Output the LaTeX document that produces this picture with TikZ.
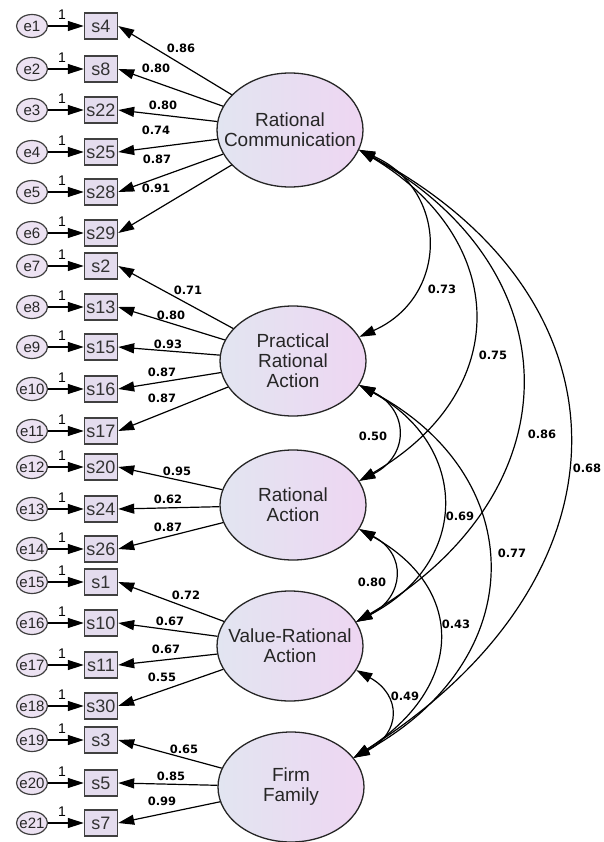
\documentclass[tikz,border=0pt]{standalone}
\usepackage{fontspec}
\setmainfont{Liberation Sans}
\newfontfamily\valfont{DejaVu Sans}
\usetikzlibrary{arrows.meta,shapes.geometric}
\definecolor{latL}{RGB}{226,229,241}
\definecolor{latR}{RGB}{238,214,242}
\definecolor{boxc}{RGB}{228,220,238}
\definecolor{errc}{RGB}{236,226,242}
\begin{document}
\begin{tikzpicture}[x=1pt,y=-1pt,
  latent/.style={ellipse, draw=black!85, line width=1.3pt, minimum width=146pt, minimum height=110pt, inner sep=0pt, left color=latL, right color=latR},
  lattext/.style={align=center, inner sep=0pt, text=black!85, font=\fontsize{19}{20}\selectfont},
  obs/.style={rectangle, draw=black!75, line width=1.4pt, minimum width=33pt, minimum height=26pt, inner sep=0pt, fill=boxc, text=black!80, font=\fontsize{18}{18}\selectfont},
  err/.style={ellipse, draw=black!75, line width=1.2pt, minimum width=31pt, minimum height=23pt, inner sep=0pt, fill=errc},
  errtext/.style={inner sep=0pt, text=black!85, font=\fontsize{15}{15}\selectfont},
  one/.style={inner sep=0pt, font=\fontsize{14}{14}\selectfont},
  val/.style={inner sep=0pt, font=\valfont\bfseries\fontsize{11.5}{12}\selectfont},
  tip/.style={-{Triangle[length=16pt,width=10pt]}, line width=1.2pt},
  cov/.style={{Triangle[length=16pt,width=10pt]}-{Triangle[length=16pt,width=10pt]}, line width=1.2pt},
]
\useasboundingbox (0,0) rectangle (603,842);

% indicators and errors
\foreach \i/\s/\y in {1/4/26, 2/8/69, 3/22/110, 4/25/152, 5/28/192, 6/29/233,
  7/2/266, 8/13/307, 9/15/347, 10/16/389, 11/17/431,
  12/20/467, 13/24/509, 14/26/549,
  15/1/582, 16/10/623, 17/11/665, 18/30/706,
  19/3/740, 20/5/783, 21/7/823} {
  \node[err] (e\i) at (32,\y) {};
  \node[errtext] at (e\i) {e\i};
  \node[obs] (s\s) at (101,\y) {s\s};
  \draw[tip] (e\i) -- (s\s);
  \node[one] (one\i) at (62,\y-11) {1};
}

% latent variables
\node[latent, minimum height=114pt] (RC) at (290,130) {};
\node[lattext] at (RC) {Rational\\Communication};
\node[latent] (PRA) at (293,361) {};
\node[lattext] at (PRA) {Practical\\Rational\\Action};
\node[latent] (RA) at (293,505) {};
\node[lattext] at (RA) {Rational\\Action};
\node[latent] (VRA) at (290,646) {};
\node[lattext] at (VRA) {Value-Rational\\Action};
\node[latent] (FF) at (291,787) {};
\node[lattext] at (FF) {Firm\\Family};

% loadings
\foreach \s in {4,8,22,25,28,29} \draw[tip] (RC) -- (s\s.east);
\foreach \s in {2,13,15,16,17} \draw[tip] (PRA) -- (s\s.east);
\foreach \s in {20,24,26} \draw[tip] (RA) -- (s\s.east);
\foreach \s in {1,10,11,30} \draw[tip] (VRA) -- (s\s.east);
\foreach \s in {3,5,7} \draw[tip] (FF) -- (s\s.east);

\node[val] (l1) at (181,48) {0.86};
\node[val] (l2) at (156,68) {0.80};
\node[val] (l3) at (163,105) {0.80};
\node[val] (l4) at (156,130) {0.74};
\node[val] (l5) at (157,159) {0.87};
\node[val] (l6) at (156,188) {0.91};
\node[val] (l7) at (188,290) {0.71};
\node[val] (l8) at (171,315) {0.80};
\node[val] (l9) at (168,344) {0.93};
\node[val] (l10) at (162,372) {0.87};
\node[val] (l11) at (162,398) {0.87};
\node[val] (l12) at (177,471) {0.95};
\node[val] (l13) at (168,499) {0.62};
\node[val] (l14) at (168,527) {0.87};
\node[val] (l15) at (186,595) {0.72};
\node[val] (l16) at (170,621) {0.67};
\node[val] (l17) at (166,649) {0.67};
\node[val] (l18) at (162,677) {0.55};
\node[val] (l19) at (184,749) {0.65};
\node[val] (l20) at (171,776) {0.85};
\node[val] (l21) at (162,801) {0.99};

% covariances
\draw[cov] (RC.-16) .. controls +(90,40) and +(90,-40) .. (PRA.20);
\draw[cov] (RC.-16) .. controls +(150,90) and +(155,-90) .. (RA.20);
\draw[cov] (RC.-16) .. controls +(215,120) and +(220,-130) .. (VRA.20);
\draw[cov] (RC.-16) .. controls +(280,150) and +(285,-180) .. (FF.25);
\draw[cov] (PRA.-20) .. controls +(50,25) and +(50,-25) .. (RA.20);
\draw[cov] (PRA.-20) .. controls +(110,60) and +(115,-60) .. (VRA.20);
\draw[cov] (PRA.-20) .. controls +(170,90) and +(180,-100) .. (FF.25);
\draw[cov] (RA.-20) .. controls +(48,25) and +(48,-25) .. (VRA.20);
\draw[cov] (RA.-20) .. controls +(108,60) and +(110,-70) .. (FF.25);
\draw[cov] (VRA.-20) .. controls +(45,25) and +(48,-25) .. (FF.25);

\node[val] (c1) at (442,289) {0.73};
\node[val] (c2) at (493,355) {0.75};
\node[val] (c3) at (542,434) {0.86};
\node[val] (c4) at (587,468) {0.68};
\node[val] (c5) at (373,436) {0.50};
\node[val] (c6) at (460,516) {0.69};
\node[val] (c7) at (512,553) {0.77};
\node[val] (c8) at (372,582) {0.80};
\node[val] (c9) at (456,624) {0.43};
\node[val] (c10) at (405,696) {0.49};
\end{tikzpicture}
\end{document}
